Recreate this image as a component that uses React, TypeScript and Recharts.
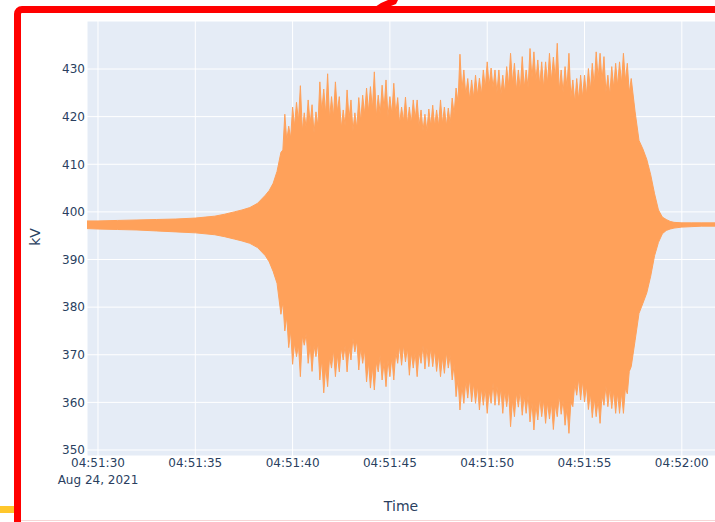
import { AreaChart, Area, XAxis, YAxis, CartesianGrid } from 'recharts';

// seconds after 04:51:00 where the envelope peaks were read
const sampleSeconds = [
  29.4, 30, 31, 32, 33, 34, 35, 35.5, 36, 36.5, 37, 37.4, 37.8, 38.2, 38.6, 38.8, 39.0, 39.2,
  39.4, 39.6, 39.8,
  40.0, 40.2, 40.4, 40.6, 40.8, 41.0, 41.2, 41.4, 41.6, 41.8,
  42.0, 42.2, 42.4, 42.6, 42.8, 43.0, 43.2, 43.4, 43.6, 43.8,
  44.0, 44.2, 44.4, 44.6, 44.8, 45.0, 45.2, 45.4, 45.6, 45.8,
  46.0, 46.2, 46.4, 46.6, 46.8, 47.0, 47.2, 47.4, 47.6, 47.8,
  48.0, 48.2, 48.4, 48.6, 48.8, 49.0, 49.2, 49.4, 49.6, 49.8,
  50.0, 50.2, 50.4, 50.6, 50.8, 51.0, 51.2, 51.4, 51.6, 51.8,
  52.0, 52.2, 52.4, 52.6, 52.8, 53.0, 53.2, 53.4, 53.6, 53.8,
  54.0, 54.2, 54.4, 54.6, 54.8, 55.0, 55.2, 55.4, 55.6, 55.8,
  56.0, 56.2, 56.4, 56.6, 56.8, 57.0, 57.2, 57.4, 57.6, 57.8,
  58.0, 58.2, 58.4, 58.6, 58.8, 59.0, 59.2, 59.4, 59.6,
  60.0, 60.5, 61.0, 61.5, 62.0, 62.5, 63.0,
];

// upper envelope peaks (kV)
const upperKv = [
  398.1, 398.1, 398.2, 398.3, 398.4, 398.5, 398.7, 398.9, 399.1, 399.5, 400.0, 400.4, 400.9, 401.8, 403.5, 404.5, 406.0, 408.5,
  412.5, 420.5, 418,
  422, 423, 426.5, 420.8, 423.5, 422.5, 421, 427.3, 425.8, 429,
  424.2, 427.3, 424.2, 421.4, 425.6, 423.5, 420.8, 424, 424.5, 426,
  426.3, 429.4, 424.5, 426.6, 427.7, 424.2, 427, 424, 422, 424.1,
  422, 423.5, 423.5, 421.4, 420.5, 421.6, 422.4, 421.4, 423.5, 422,
  421.8, 423.9, 426, 433.1, 429.8, 428, 427.7, 428.7, 428.1, 429.8,
  431.5, 430.2, 429.8, 429.8, 428.7, 430.5, 433.3, 431.2, 429.8, 432.6,
  429.8, 434.3, 433.6, 431.9, 431.5, 431.5, 433.3, 432.5, 435.4, 429.8,
  430.5, 433.3, 427.7, 428, 428.7, 428.7, 430.1, 431.2, 433.6, 433.3,
  432.6, 428.7, 430.5, 431.2, 431.5, 433.3, 431.2, 428, 421, 415,
  413.2, 411, 407.8, 403.8, 400.4, 398.9, 398.4, 398, 397.8,
  397.7, 397.7, 397.7, 397.7, 397.7, 397.7, 397.7,
];

// lower envelope troughs (kV)
const lowerKv = [
  396.5, 396.4, 396.3, 396.2, 396.0, 395.8, 395.6, 395.4, 395.2, 394.8, 394.3, 393.9, 393.4, 392.5, 390.8, 389.5, 387.5, 385,
  378.5, 375, 371.5,
  368, 369.6, 365.4, 372, 368.2, 366.5, 369.6, 364.7, 362, 363.3,
  367.2, 365.4, 366.4, 368.9, 366.4, 368.9, 370.6, 366.8, 368.2, 364.3,
  363, 362.6, 366.4, 364.7, 363.3, 365.4, 364.7, 368.2, 367.8, 368.5,
  365.7, 367.2, 365.4, 368.2, 367, 367.5, 367.5, 366.5, 365.4, 366.1,
  367.2, 364.7, 361.2, 358.4, 359.8, 360.9, 360.1, 359.8, 358.4, 359.4,
  357.7, 359.8, 359.4, 359.4, 357.7, 359.1, 354.9, 357, 359, 357.3,
  357.7, 355.9, 354.2, 356.3, 357, 355.6, 356.5, 354.3, 357, 357.5,
  355.2, 353.5, 359.1, 361.5, 360.5, 360.1, 358.5, 356.8, 357, 355.6,
  359.4, 359.1, 358.7, 357.7, 357.7, 357.7, 361.8, 367.5, 373, 378.7,
  380.8, 383, 386.5, 390.8, 393.6, 395.4, 396.1, 396.4, 396.6,
  396.8, 396.9, 397.0, 397.0, 397.0, 397.0, 397.0,
];

// solid core between the spikes, read between neighbouring peaks
const coreSeconds = [
  39.5, 39.7, 39.9,
  40.1, 40.3, 40.5, 40.7, 40.9, 41.1, 41.3, 41.5, 41.7, 41.9,
  42.1, 42.3, 42.5, 42.7, 42.9, 43.1, 43.3, 43.5, 43.7, 43.9,
  44.1, 44.3, 44.5, 44.7, 44.9, 45.1, 45.3, 45.5, 45.7, 45.9,
  46.1, 46.3, 46.5, 46.7, 46.9, 47.1, 47.3, 47.5, 47.7, 47.9,
  48.1, 48.3, 48.5, 48.7, 48.9, 49.1, 49.3, 49.5, 49.7, 49.9,
  50.1, 50.3, 50.5, 50.7, 50.9, 51.1, 51.3, 51.5, 51.7, 51.9,
  52.1, 52.3, 52.5, 52.7, 52.9, 53.1, 53.3, 53.5, 53.7, 53.9,
  54.1, 54.3, 54.5, 54.7, 54.9, 55.1, 55.3, 55.5, 55.7, 55.9,
  56.1, 56.3, 56.5, 56.7, 56.9, 57.1, 57.3,
];

const upperCoreKv = [
  413, 415, 415.5,
  418, 419, 417, 417.5, 418.5, 416.5, 418, 421, 420.5, 419.5,
  420, 421, 417.5, 418, 419.5, 417, 417.5, 419, 420.5, 421,
  421.5, 420, 420.5, 421.5, 420, 420.5, 420.5, 418.5, 419, 418.5,
  418.5, 419.5, 418, 417, 417, 418, 418, 418, 418.5, 418,
  418.5, 420.5, 423, 425.5, 424.5, 423.5, 424, 424.5, 424.5, 426,
  426.5, 426, 425, 424.5, 425, 426.5, 427, 425.5, 425.5, 426,
  426, 428, 427.5, 426.5, 426, 427, 427.5, 428, 425.5, 425,
  426, 424, 423, 423.5, 424, 424.5, 425.5, 426.5, 428, 427.5,
  425, 424.5, 426, 426.5, 427, 427.5, 425,
];

const lowerCoreKv = [
  381, 378, 375,
  372.5, 372, 374, 374.5, 372, 372, 372.5, 369, 367.5, 369.5,
  371, 370, 371.5, 372, 371.5, 373.5, 373, 371.5, 371, 368.5,
  367.5, 368.5, 370, 368.5, 369, 369.5, 370.5, 372, 372, 371.5,
  370.5, 370.5, 370.5, 372, 371.5, 371.5, 371, 370, 369.5, 370.5,
  370, 368, 365, 363.5, 364.5, 365, 364, 363.5, 363, 363,
  362.5, 364, 363.5, 363, 362.5, 362.5, 360.5, 362, 362.5, 361.5,
  361.5, 360, 359.5, 361, 360.5, 360, 360, 359.5, 361.5, 360.5,
  359, 360, 364, 365, 364.5, 363.5, 362, 361, 360.5, 361.5,
  363.5, 363, 362.5, 362, 362, 363, 366.5,
];

const timeTicks = [30, 35, 40, 45, 50, 55, 60];
const kvTicks = [350, 360, 370, 380, 390, 400, 410, 420, 430];
const dateLabel = 'Aug 24, 2021';

const data = [
  ...sampleSeconds.map((t, i) => ({ t, band: [lowerKv[i], upperKv[i]] })),
  ...coreSeconds.map((t, i) => ({ t, band: [lowerCoreKv[i], upperCoreKv[i]] })),
].sort((a, b) => a.t - b.t);

const FONT = '"DejaVu Sans", Verdana, sans-serif';
const INK = '#2a3f5f';

function fmtTime(s: number) {
  const m = 51 + Math.floor(s / 60);
  const sec = Math.round(s % 60);
  return `04:${String(m).padStart(2, '0')}:${String(sec).padStart(2, '0')}`;
}

function TimeTick(props: any) {
  const { x, y, payload } = props;
  return (
    <g>
      <text x={x} y={y + 11} textAnchor="middle" fill={INK} fontSize={12} fontFamily={FONT}>
        {fmtTime(payload.value)}
      </text>
      {payload.value === timeTicks[0] && (
        <text x={x} y={y + 28} textAnchor="middle" fill={INK} fontSize={12} fontFamily={FONT}>
          {dateLabel}
        </text>
      )}
    </g>
  );
}

export default function App() {
  return (
    <div style={{ position: 'absolute', left: 0, top: 0, width: 715, height: 522, overflow: 'hidden', background: '#fff' }}>
      <AreaChart width={760} height={522} data={data} margin={{ top: 21, right: 20, left: 0, bottom: 0 }}>
        <CartesianGrid stroke="#ffffff" strokeWidth={1} fill="#E5ECF6" fillOpacity={1} />
        <XAxis
          type="number"
          dataKey="t"
          domain={[29.435, 62.99]}
          ticks={timeTicks}
          allowDataOverflow
          height={66}
          axisLine={false}
          tickLine={false}
          tickSize={0}
          tickMargin={0}
          tick={<TimeTick />}
        />
        <YAxis
          type="number"
          domain={[348.74, 440.08]}
          ticks={kvTicks}
          allowDataOverflow
          width={87}
          axisLine={false}
          tickLine={false}
          tickSize={0}
          tickMargin={2}
          tick={{ fill: INK, fontSize: 12, fontFamily: FONT }}
        />
        <Area
          type="linear"
          dataKey="band"
          stroke="#FFA15A"
          strokeWidth={1}
          fill="#FFA15A"
          fillOpacity={1}
          dot={false}
          activeDot={false}
          isAnimationActive={false}
        />
      </AreaChart>

      <div style={{ position: 'absolute', left: 35, top: 237, transform: 'translate(-50%, -50%) rotate(-90deg)', fontFamily: FONT, fontSize: 14, color: INK, whiteSpace: 'nowrap' }}>
        kV
      </div>
      <div style={{ position: 'absolute', left: 401, top: 506, transform: 'translate(-50%, -50%)', fontFamily: FONT, fontSize: 14, color: INK, whiteSpace: 'nowrap' }}>
        Time
      </div>

      {/* screenshot annotations */}
      <div style={{ position: 'absolute', left: 21, top: 520, width: 700, height: 1, background: '#f6d6d6' }} />
      <div style={{ position: 'absolute', left: 14, top: 6, width: 800, height: 600, border: '7px solid #ff0000', borderRadius: 8, boxSizing: 'border-box' }} />
      <div style={{ position: 'absolute', left: 0, top: 506, width: 14, height: 7, background: '#ffc72c' }} />
      <svg style={{ position: 'absolute', left: 0, top: 0 }} width={715} height={20}>
        <polygon points="372,9 381,3 388,0 398,0 396,4 391,6 386,9" fill="#ff0000" />
      </svg>
    </div>
  );
}
